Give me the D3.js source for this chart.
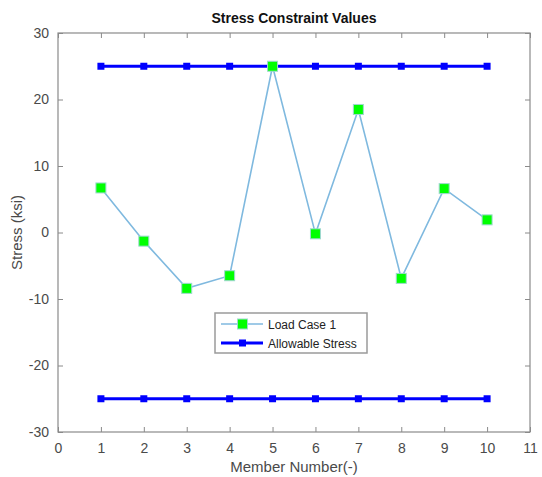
<!DOCTYPE html>
<html>
<head>
<meta charset="utf-8">
<script src="https://cdn.jsdelivr.net/npm/d3@7"></script>
<style>
  body { margin: 0; background: #fff; }
  text { font-family: "Liberation Sans", Arial, Helvetica, sans-serif; }
</style>
</head>
<body>
<svg id="chart" width="542" height="477"></svg>
<script>
var members = [1, 2, 3, 4, 5, 6, 7, 8, 9, 10];
var loadCase1 = [6.7, -1.3, -8.4, -6.5, 25, -0.2, 18.5, -6.9, 6.6, 1.9];
var allowUpper = [25, 25, 25, 25, 25, 25, 25, 25, 25, 25];
var allowLower = [-25, -25, -25, -25, -25, -25, -25, -25, -25, -25];
var xTicks = [0, 1, 2, 3, 4, 5, 6, 7, 8, 9, 10, 11];
var yTicks = [-30, -20, -10, 0, 10, 20, 30];

var svg = d3.select("#chart"),
    margin = {top: 33, right: 12, bottom: 45, left: 58},
    width = 542 - margin.left - margin.right,
    height = 477 - margin.top - margin.bottom;

var x = d3.scaleLinear().domain([0, 11]).range([0, width]);
var y = d3.scaleLinear().domain([-30, 30]).range([height, 0]);

var g = svg.append("g")
    .attr("transform", "translate(" + margin.left + "," + margin.top + ")");

var axisColor = "#8a8a8a", labelColor = "#4a4a4a";
var plain = function(d) { return String(d); };  // hyphen minus, like matlab

// axes, ticks pointing inward like matlab
function styleAxis(sel, showText) {
    sel.select(".domain").remove();
    sel.selectAll(".tick line").attr("stroke", axisColor);
    sel.selectAll(".tick text")
        .attr("fill", labelColor)
        .style("font-size", "14px")
        .style("display", showText ? null : "none");
}

g.append("g")
    .attr("transform", "translate(0," + height + ")")
    .call(d3.axisBottom(x).tickValues(xTicks).tickFormat(plain).tickSizeInner(-5).tickPadding(11))
    .call(styleAxis, true);
g.append("g")
    .call(d3.axisTop(x).tickValues(xTicks).tickSizeInner(-5))
    .call(styleAxis, false);
g.append("g")
    .call(d3.axisLeft(y).tickValues(yTicks).tickFormat(plain).tickSizeInner(-5).tickPadding(9))
    .call(styleAxis, true);
g.append("g")
    .attr("transform", "translate(" + width + ",0)")
    .call(d3.axisRight(y).tickValues(yTicks).tickSizeInner(-5))
    .call(styleAxis, false);

g.append("rect")
    .attr("width", width).attr("height", height)
    .attr("fill", "none").attr("stroke", axisColor).attr("stroke-width", 1.2);

var line = d3.line()
    .x(function(d, i) { return x(members[i]); })
    .y(function(d) { return y(d); });

// allowable stress lines
[allowUpper, allowLower].forEach(function(series) {
    g.append("path")
        .datum(series)
        .attr("fill", "none")
        .attr("stroke", "#0000ff")
        .attr("stroke-width", 3)
        .attr("d", line);
    g.selectAll(null)
        .data(series)
        .enter().append("rect")
        .attr("x", function(d, i) { return x(members[i]) - 3.5; })
        .attr("y", function(d) { return y(d) - 3.5; })
        .attr("width", 7).attr("height", 7)
        .attr("fill", "#0000ff");
});

// load case 1
g.append("path")
    .datum(loadCase1)
    .attr("fill", "none")
    .attr("stroke", "#7fb9df")
    .attr("stroke-width", 1.6)
    .attr("d", line);

g.selectAll(".lc")
    .data(loadCase1)
    .enter().append("rect")
    .attr("class", "lc")
    .attr("x", function(d, i) { return x(members[i]) - 5; })
    .attr("y", function(d) { return y(d) - 5; })
    .attr("width", 10).attr("height", 10)
    .attr("fill", "#00ff00")
    .attr("stroke", "#9fd8d0")
    .attr("stroke-width", 1);

// title and labels
svg.append("text")
    .attr("x", margin.left + width / 2).attr("y", 23)
    .attr("text-anchor", "middle")
    .style("font-size", "14px").style("font-weight", "bold")
    .attr("fill", "#111")
    .text("Stress Constraint Values");

svg.append("text")
    .attr("x", margin.left + width / 2).attr("y", 472)
    .attr("text-anchor", "middle")
    .style("font-size", "15px")
    .attr("fill", labelColor)
    .text("Member Number(-)");

svg.append("text")
    .attr("transform", "translate(22," + (margin.top + height / 2) + ") rotate(-90)")
    .attr("text-anchor", "middle")
    .style("font-size", "15px")
    .attr("fill", labelColor)
    .text("Stress (ksi)");

// legend
var legend = svg.append("g").attr("transform", "translate(215,313)");
legend.append("rect")
    .attr("width", 152).attr("height", 40)
    .attr("fill", "#fff").attr("stroke", "#9a9a9a").attr("stroke-width", 1.5);

var lg1 = legend.append("g").attr("transform", "translate(0,11)");
lg1.append("line").attr("x1", 6).attr("x2", 48)
    .attr("stroke", "#7fb9df").attr("stroke-width", 1.6);
lg1.append("rect").attr("x", 22.5).attr("y", -5).attr("width", 10).attr("height", 10)
    .attr("fill", "#00ff00").attr("stroke", "#9fd8d0");
lg1.append("text").attr("x", 53).attr("y", 4.5)
    .style("font-size", "12px").attr("fill", "#222").text("Load Case 1");

var lg2 = legend.append("g").attr("transform", "translate(0,30)");
lg2.append("line").attr("x1", 6).attr("x2", 48)
    .attr("stroke", "#0000ff").attr("stroke-width", 3);
lg2.append("rect").attr("x", 24).attr("y", -3.5).attr("width", 7).attr("height", 7)
    .attr("fill", "#0000ff");
lg2.append("text").attr("x", 53).attr("y", 4.5)
    .style("font-size", "12px").attr("fill", "#222").text("Allowable Stress");
</script>
</body>
</html>
